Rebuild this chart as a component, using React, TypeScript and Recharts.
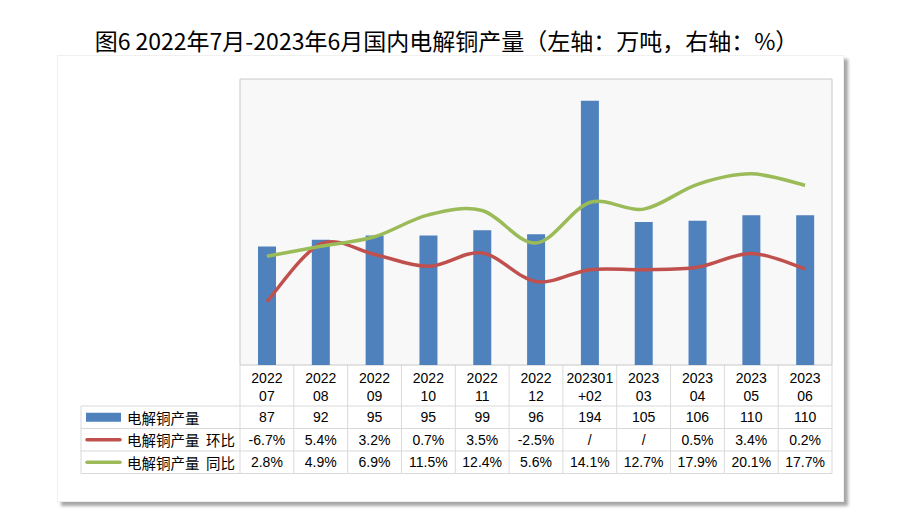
import React from 'react';
import { ComposedChart, Bar, Line, XAxis, YAxis, ReferenceArea } from 'recharts';

// months (two-line labels in the data table)
const categories = ['2022\n07', '2022\n08', '2022\n09', '2022\n10', '2022\n11', '2022\n12', '202301\n+02', '2023\n03', '2023\n04', '2023\n05', '2023\n06'];
// 万吨
const output = [87, 92, 95, 95, 99, 96, 194, 105, 106, 110, 110];
// 环比 % (null = "/" in the table, drawn at 0 in the chart)
const momPct = [-6.7, 5.4, 3.2, 0.7, 3.5, -2.5, null, null, 0.5, 3.4, 0.2];
// 同比 %
const yoyPct = [2.8, 4.9, 6.9, 11.5, 12.4, 5.6, 14.1, 12.7, 17.9, 20.1, 17.7];

const seriesNames = ['电解铜产量', '电解铜产量  环比', '电解铜产量  同比'];
const title = '图6 2022年7月-2023年6月国内电解铜产量（左轴：万吨，右轴：%）';

const BLUE = '#4f81bd';
const RED = '#c0504d';
const GREEN = '#9bbb59';
const GRID = '#d9d9d9';
const FONT = "'Noto Sans CJK SC', 'Noto Sans', sans-serif";
const NUM_FONT = "'Liberation Sans', 'Noto Sans CJK SC', sans-serif";

const W = 900;
const H = 517;
const margin = { top: 79, right: 68, bottom: 43, left: 240 };
const AXIS_H = 109;
const colW = (W - margin.left - margin.right) / categories.length;
const headerH = 41;
const rowH = 22.5;
const tableLeft = 81;

const data = categories.map((cat, i) => ({
  cat,
  output: output[i],
  mom: momPct[i] ?? 0,
  yoy: yoyPct[i],
}));

const pct = (v: number | null) => (v === null ? '/' : `${v.toFixed(1)}%`);

// Excel-like smoothed line (catmull-rom style bezier)
const excelSmooth: any = (context: any) => {
  let pts: number[][] = [];
  return {
    areaStart() {},
    areaEnd() {},
    lineStart() {
      pts = [];
    },
    point(x: number, y: number) {
      pts.push([+x, +y]);
    },
    lineEnd() {
      if (!pts.length) return;
      context.moveTo(pts[0][0], pts[0][1]);
      for (let i = 0; i < pts.length - 1; i++) {
        const p0 = pts[i - 1] || pts[i];
        const p1 = pts[i];
        const p2 = pts[i + 1];
        const p3 = pts[i + 2] || p2;
        context.bezierCurveTo(
          p1[0] + (p2[0] - p0[0]) / 6,
          p1[1] + (p2[1] - p0[1]) / 6,
          p2[0] - (p3[0] - p1[0]) / 6,
          p2[1] - (p3[1] - p1[1]) / 6,
          p2[0],
          p2[1],
        );
      }
    },
  };
};

const TableColumn = (props: any) => {
  const { x, y, index } = props;
  const left = x - colW / 2;
  const right = x + colW / 2;
  const [l1, l2] = categories[index].split('\n');
  const cells = [String(output[index]), pct(momPct[index]), pct(yoyPct[index])];
  const r0 = y + headerH;
  const textProps = { fontFamily: NUM_FONT, fontSize: 14, fill: '#000', textAnchor: 'middle' as const, dominantBaseline: 'central' as const };

  return (
    <g>
      {index === 0 && (
        <g>
          <line x1={left} y1={y} x2={left} y2={r0 + 3 * rowH} stroke={GRID} />
          <line x1={tableLeft} y1={r0} x2={tableLeft} y2={r0 + 3 * rowH} stroke={GRID} />
          {[0, 1, 2, 3].map((k) => (
            <line key={k} x1={tableLeft} y1={r0 + k * rowH} x2={left} y2={r0 + k * rowH} stroke={GRID} />
          ))}
          <rect x={86} y={r0 + rowH / 2 - 4.5} width={35} height={9} fill={BLUE} />
          <line x1={87} y1={r0 + rowH * 1.5} x2={120} y2={r0 + rowH * 1.5} stroke={RED} strokeWidth={3.5} strokeLinecap="round" />
          <line x1={87} y1={r0 + rowH * 2.5} x2={120} y2={r0 + rowH * 2.5} stroke={GREEN} strokeWidth={3.5} strokeLinecap="round" />
          {seriesNames.map((n, k) => (
            <text
              key={n}
              {...textProps}
              fontFamily={FONT}
              fontSize={14.5}
              textAnchor="start"
              x={127}
              y={r0 + rowH * (k + 0.5)}
              style={{ whiteSpace: 'pre' }}
            >
              {n}
            </text>
          ))}
        </g>
      )}
      <line x1={right} y1={y} x2={right} y2={r0 + 3 * rowH} stroke={GRID} />
      {[0, 1, 2, 3].map((k) => (
        <line key={k} x1={left} y1={r0 + k * rowH} x2={right} y2={r0 + k * rowH} stroke={GRID} />
      ))}
      <text {...textProps} x={x} y={y + 12.5}>{l1}</text>
      <text {...textProps} x={x} y={y + 31}>{l2}</text>
      {cells.map((c, k) => (
        <text key={k} {...textProps} x={x} y={r0 + rowH * (k + 0.5)}>{c}</text>
      ))}
    </g>
  );
};

export default function App() {
  return (
    <div style={{ position: 'relative', width: W, height: H, background: '#fff', overflow: 'hidden' }}>
      <style>{'body{margin:0}'}</style>
      <div
        style={{
          position: 'absolute',
          left: 57,
          top: 55,
          width: 785,
          height: 445,
          background: '#fff',
          border: '1px solid #f0f0f0',
          boxShadow: '4px 4px 3px rgba(0,0,0,0.35)',
        }}
      />
      <div
        style={{
          position: 'absolute',
          left: 0,
          top: 25,
          width: 893,
          textAlign: 'center',
          fontFamily: FONT,
          fontSize: 23,
          lineHeight: '30px',
          color: '#000',
          whiteSpace: 'nowrap',
        }}
      >
        {title}
      </div>
      <div style={{ position: 'absolute', left: 0, top: 0 }}>
        <ComposedChart width={W} height={H} data={data} margin={margin}>
          <XAxis
            dataKey="cat"
            height={AXIS_H}
            interval={0}
            tickLine={false}
            axisLine={false}
            tickSize={0}
            tickMargin={0}
            tick={(p: any) => <TableColumn {...p} />}
          />
          <YAxis yAxisId="left" domain={[0, 210]} hide />
          <YAxis yAxisId="right" orientation="right" domain={[-20, 40]} hide />
          <ReferenceArea yAxisId="left" y1={0} y2={210} fill="#f8f8f8" fillOpacity={1} stroke="#c8c8c8" strokeWidth={1} />
          <Bar yAxisId="left" dataKey="output" name={seriesNames[0]} fill={BLUE} barSize={18} isAnimationActive={false} />
          <Line
            yAxisId="right"
            dataKey="mom"
            name={seriesNames[1]}
            type={excelSmooth}
            stroke={RED}
            strokeWidth={3.5}
            dot={false}
            activeDot={false}
            isAnimationActive={false}
          />
          <Line
            yAxisId="right"
            dataKey="yoy"
            name={seriesNames[2]}
            type={excelSmooth}
            stroke={GREEN}
            strokeWidth={3.5}
            dot={false}
            activeDot={false}
            isAnimationActive={false}
          />
        </ComposedChart>
      </div>
    </div>
  );
}
